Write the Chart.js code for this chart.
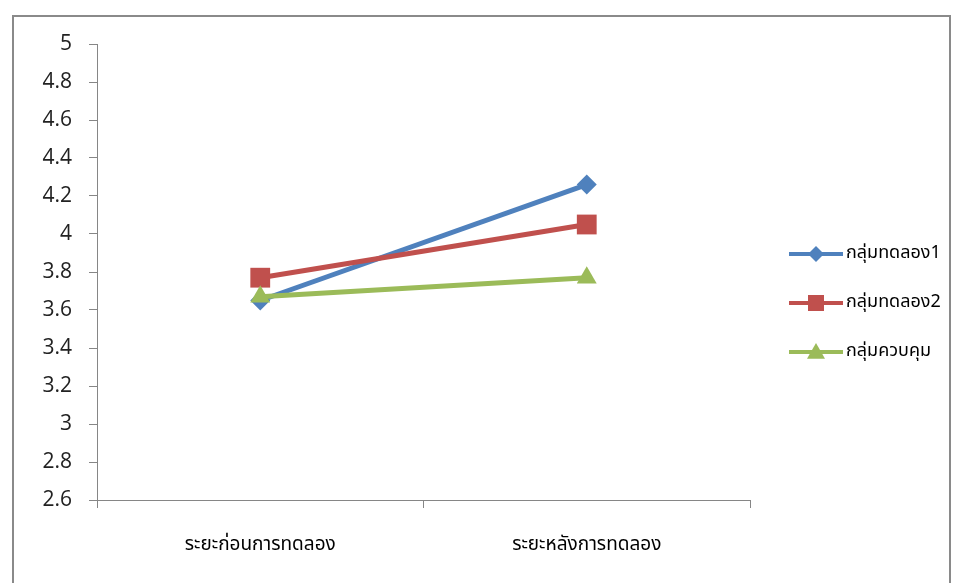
<!DOCTYPE html>
<html>
<head>
<meta charset="utf-8">
<script src="https://cdn.jsdelivr.net/npm/chart.js@4.4.1/dist/chart.umd.min.js"></script>
<style>
  html, body { margin: 0; padding: 0; background: #fff; }
  #wrap { position: relative; width: 957px; height: 583px; }
</style>
</head>
<body>
<div id="wrap"><canvas id="c" width="957" height="583"></canvas></div>
<script>
// Periods and group means
const periods = ['ระยะก่อนการทดลอง', 'ระยะหลังการทดลอง'];
const seriesNames = ['กลุ่มทดลอง1', 'กลุ่มทดลอง2', 'กลุ่มควบคุม'];
const experiment1 = [3.65, 4.26];
const experiment2 = [3.77, 4.05];
const control = [3.67, 3.77];
const yTicks = [2.6, 2.8, 3, 3.2, 3.4, 3.6, 3.8, 4, 4.2, 4.4, 4.6, 4.8, 5];

const colors = ['#4F81BD', '#C0504D', '#9BBB59'];
const markers = ['rectRot', 'rect', 'triangle'];
const markerSize = [10, 14, 11.5];
const legendMarkerSize = [8, 8, 9];
const values = [experiment1, experiment2, control];

const axisGray = '#868686';
const thaiFont = "Tahoma, 'Noto Sans Thai', 'Noto Sans', sans-serif";

function drawMarker(ctx, style, x, y, r, color) {
  ctx.save();
  ctx.fillStyle = color;
  ctx.beginPath();
  if (style === 'rectRot') {
    ctx.moveTo(x, y - r); ctx.lineTo(x + r, y); ctx.lineTo(x, y + r); ctx.lineTo(x - r, y);
  } else if (style === 'rect') {
    ctx.rect(x - r, y - r, 2 * r, 2 * r);
  } else {
    ctx.moveTo(x, y - r); ctx.lineTo(x + r, y + r * 0.75); ctx.lineTo(x - r, y + r * 0.75);
  }
  ctx.closePath();
  ctx.fill();
  ctx.restore();
}

// Outer frame of the chart
const framePlugin = {
  id: 'frame',
  beforeDraw(chart) {
    const ctx = chart.ctx;
    ctx.save();
    ctx.strokeStyle = '#8a8a8a';
    ctx.lineWidth = 2;
    ctx.strokeRect(13, 16, 937, 620);
    ctx.restore();
  }
};

// Legend on the right: line segment with centred marker, then label
const sideLegend = {
  id: 'sideLegend',
  afterDraw(chart) {
    const ctx = chart.ctx;
    ctx.save();
    chart.data.datasets.forEach((ds, i) => {
      const y = 254 + i * 49;
      ctx.strokeStyle = ds.borderColor;
      ctx.lineWidth = 4;
      ctx.beginPath();
      ctx.moveTo(789, y);
      ctx.lineTo(843, y);
      ctx.stroke();
      drawMarker(ctx, ds.pointStyle, 816, y, legendMarkerSize[i], ds.borderColor);
      ctx.fillStyle = '#000';
      ctx.font = '18px ' + thaiFont;
      ctx.textBaseline = 'middle';
      ctx.textAlign = 'left';
      ctx.fillText(ds.label, 846, y);
    });
    ctx.restore();
  }
};

new Chart(document.getElementById('c'), {
  type: 'line',
  data: {
    labels: periods,
    datasets: seriesNames.map((name, i) => ({
      label: name,
      data: values[i],
      // later series are painted over earlier ones
      order: seriesNames.length - i,
      borderColor: colors[i],
      backgroundColor: colors[i],
      borderWidth: 5,
      pointStyle: markers[i],
      pointRadius: markerSize[i],
      pointBorderWidth: 0,
      pointBackgroundColor: colors[i],
      pointHoverRadius: markerSize[i],
      tension: 0
    }))
  },
  options: {
    responsive: false,
    animation: false,
    events: [],
    layout: { padding: { top: 44, right: 207, bottom: 0, left: 0 } },
    plugins: { legend: { display: false }, tooltip: { enabled: false } },
    scales: {
      x: {
        type: 'category',
        offset: true,
        grid: { display: true, offset: true, drawOnChartArea: false, drawTicks: true, tickLength: 8, color: axisGray, lineWidth: 1 },
        border: { display: true, color: axisGray, width: 1 },
        ticks: { color: '#000', font: { family: thaiFont, size: 19 }, padding: 27, maxRotation: 0 },
        afterFit(scale) { scale.height = 83; }
      },
      y: {
        min: 2.6,
        max: 5,
        afterBuildTicks(scale) { scale.ticks = yTicks.map(v => ({ value: v })); },
        grid: { display: true, drawOnChartArea: false, drawTicks: true, tickLength: 8, color: axisGray, lineWidth: 1 },
        border: { display: true, color: axisGray, width: 1 },
        ticks: { color: '#222', font: { family: "'Open Sans', sans-serif", size: 21 }, padding: 17,
                 callback: v => String(Math.round(v * 10) / 10) },
        afterFit(scale) { scale.width = 97; }
      }
    }
  },
  plugins: [framePlugin, sideLegend]
});
</script>
</body>
</html>
